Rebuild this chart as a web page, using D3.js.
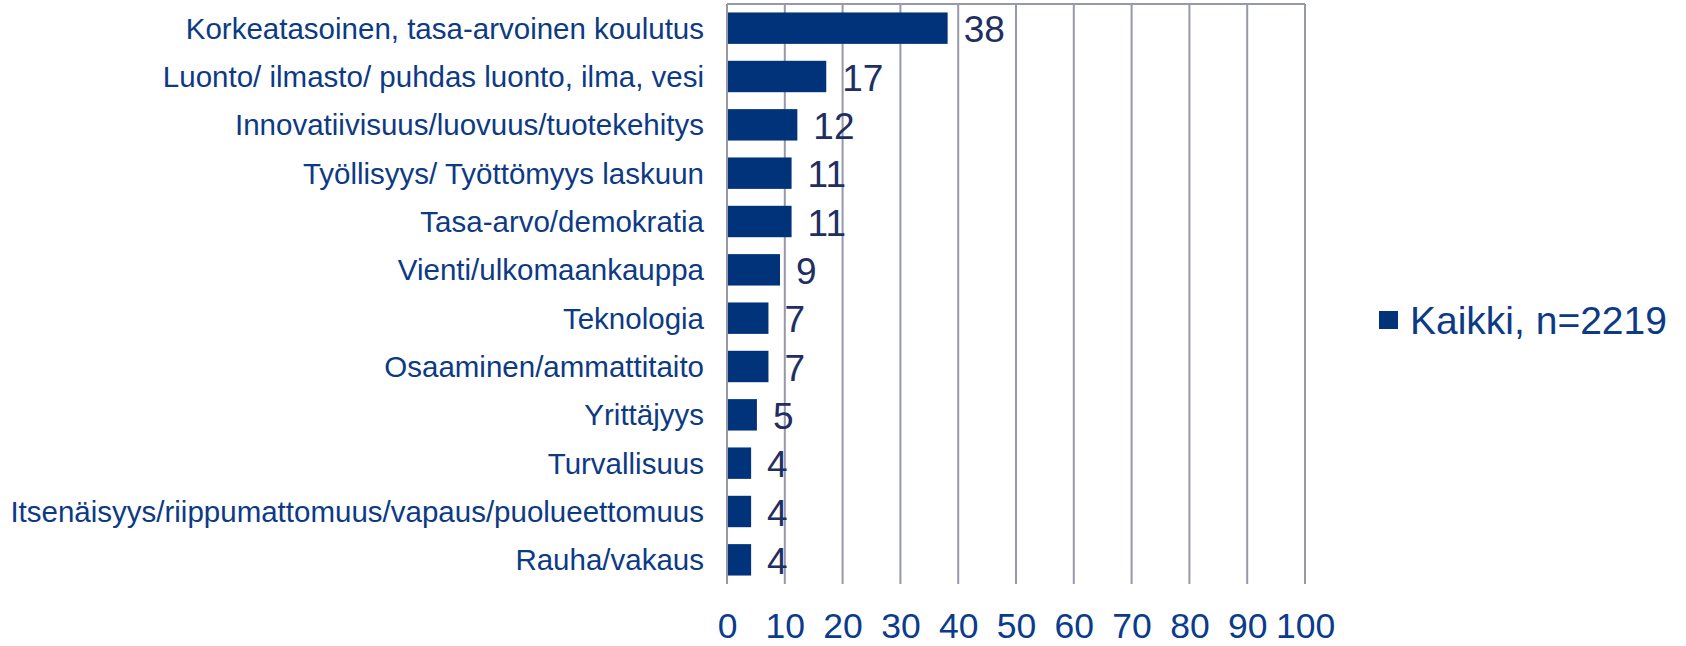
<!DOCTYPE html>
<html>
<head>
<meta charset="utf-8">
<script src="https://cdn.jsdelivr.net/npm/d3@7"></script>
<style>
  html, body { margin: 0; padding: 0; background: #ffffff; }
  #rankingBar { width: 1686px; height: 646px; }
  text { font-family: "Liberation Sans", Arial, sans-serif; }
</style>
</head>
<body>
<div id="rankingBar"></div>
<script>
// Dados do gráfico //
const categorias = [
  "Korkeatasoinen, tasa-arvoinen koulutus",
  "Luonto/ ilmasto/ puhdas luonto, ilma, vesi",
  "Innovatiivisuus/luovuus/tuotekehitys",
  "Työllisyys/ Työttömyys laskuun",
  "Tasa-arvo/demokratia",
  "Vienti/ulkomaankauppa",
  "Teknologia",
  "Osaaminen/ammattitaito",
  "Yrittäjyys",
  "Turvallisuus",
  "Itsenäisyys/riippumattomuus/vapaus/puolueettomuus",
  "Rauha/vakaus"
]
const valores = [38, 17, 12, 11, 11, 9, 7, 7, 5, 4, 4, 4]
const ticks = [0, 10, 20, 30, 40, 50, 60, 70, 80, 90, 100]
const serie = "Kaikki, n=2219"

var rankingBars = {
  // Renderiza o gráfico //
  render: function(node){
    const width = 1686
    const height = 646
    const barColor = "#00337a"
    const gridColor = "#9799aa"

    const svg = d3.select(node).append("svg")
        .attr("width", width)
        .attr("height", height)
        .attr("viewBox", "0 0 " + width + " " + height)

    const x = d3.scaleLinear().domain([0, 100]).range([727, 1305])
    const y = d3.scaleBand().domain(categorias).range([4, 584]).paddingInner(0.35).paddingOuter(0.175)

    // Linhas de grade //
    svg.append("g").selectAll("line")
        .data(ticks)
        .enter()
        .append("line")
        .attr("x1", d => x(d)).attr("x2", d => x(d))
        .attr("y1", y.range()[0]).attr("y2", y.range()[1])
        .attr("stroke", gridColor)
        .attr("stroke-width", 2)

    svg.append("line")
        .attr("x1", x(0)).attr("x2", x(100))
        .attr("y1", y.range()[0]).attr("y2", y.range()[0])
        .attr("stroke", gridColor)
        .attr("stroke-width", 2)

    // Eixo x //
    const axis = svg.append("g")
        .attr("transform", "translate(0,638)")
        .call(d3.axisBottom(x).tickValues(ticks).tickSize(0).tickPadding(0))
    axis.select(".domain").remove()
    axis.selectAll("text")
        .attr("dy", 0)
        .attr("fill", "#0a3b8c")
        .style("font-size", "35.5px")
        .style("font-family", "'Liberation Sans', Arial, sans-serif")

    // Barras //
    svg.append("g").selectAll("rect")
        .data(valores)
        .enter()
        .append("rect")
        .attr("x", x(0) + 1)
        .attr("y", (d, i) => y(categorias[i]))
        .attr("width", d => x(d) - x(0))
        .attr("height", y.bandwidth())
        .attr("fill", barColor)

    // Rótulos das categorias //
    svg.append("g").selectAll("text")
        .data(categorias)
        .enter()
        .append("text")
        .attr("x", 704)
        .attr("y", d => y(d) + y.bandwidth() / 2)
        .attr("dy", "0.36em")
        .attr("text-anchor", "end")
        .attr("fill", "#0d3a85")
        .style("font-size", "29.5px")
        .text(d => d)

    // Valores //
    svg.append("g").selectAll("text")
        .data(valores)
        .enter()
        .append("text")
        .attr("x", d => x(d) + 17)
        .attr("y", (d, i) => y(categorias[i]) + y.bandwidth() / 2 + 1)
        .attr("dy", "0.36em")
        .attr("fill", "#1f2f62")
        .style("font-size", "37px")
        .text(d => d)

    // Legenda //
    const legend = svg.append("g").attr("transform", "translate(1379,311)")
    legend.append("rect")
        .attr("width", 19).attr("height", 18)
        .attr("fill", barColor)
    legend.append("text")
        .attr("x", 31)
        .attr("y", 9)
        .attr("dy", "0.36em")
        .attr("fill", "#0d3a85")
        .style("font-size", "39px")
        .text(serie)
  }
}

// Chama o Gráfico //
rankingBars.render("#rankingBar")
</script>
</body>
</html>
